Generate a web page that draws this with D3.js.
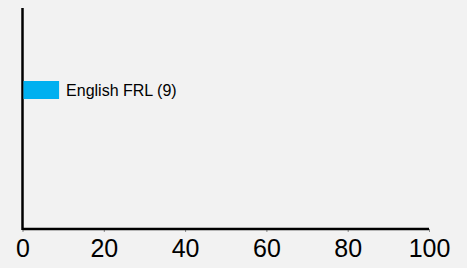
<!DOCTYPE html>
<html>
<head>
<meta charset="utf-8">
<script src="https://cdn.jsdelivr.net/npm/d3@7"></script>
<style>
  body { margin: 0; background: #f2f2f2; }
  svg { display: block; font-family: Arial, "Liberation Sans", sans-serif; }
</style>
</head>
<body>
<div id="chart"></div>
<script>
// data
var categories = ["English FRL"];
var values = [9];
var xTicks = [0, 20, 40, 60, 80, 100];

var svgWidth = 467;
var svgHeight = 268;

var svg = d3.select("#chart")
    .append("svg")
    .attr("width", svgWidth)
    .attr("height", svgHeight);

svg.append("rect")
    .attr("width", svgWidth)
    .attr("height", svgHeight)
    .attr("fill", "#f2f2f2");

var xScale = d3.scaleLinear()
    .domain([0, 100])
    .range([22.5, 429]);

var yScale = d3.scaleBand()
    .domain(categories)
    .range([81, 99]);

var bottomAxis = d3.axisBottom(xScale)
    .tickValues(xTicks)
    .tickSize(3)
    .tickPadding(7);

var xAxis = svg.append("g")
    .attr("transform", "translate(0, 229)")
    .call(bottomAxis);

xAxis.select(".domain").remove();
xAxis.selectAll(".tick line").attr("stroke", "#888");
xAxis.selectAll(".tick text")
    .attr("font-size", 25)
    .attr("fill", "#000")
    .attr("font-family", "Arial, 'Liberation Sans', sans-serif");

// axis lines
svg.append("line")
    .attr("x1", xScale(0)).attr("x2", xScale(100))
    .attr("y1", 229).attr("y2", 229)
    .attr("stroke", "#000")
    .attr("stroke-width", 2.5);

svg.append("line")
    .attr("x1", xScale(0)).attr("x2", xScale(0))
    .attr("y1", 8).attr("y2", 230)
    .attr("stroke", "#000")
    .attr("stroke-width", 2.5);

// bars
svg.selectAll(".bar")
    .data(categories)
    .enter().append("rect")
    .attr("class", "bar")
    .attr("x", xScale(0) + 1)
    .attr("y", d => yScale(d))
    .attr("width", (d, i) => xScale(values[i]) - xScale(0) - 1)
    .attr("height", yScale.bandwidth())
    .attr("fill", "#00b0f0");

svg.selectAll(".barLabel")
    .data(categories)
    .enter().append("text")
    .attr("class", "barLabel")
    .attr("x", (d, i) => xScale(values[i]) + 7)
    .attr("y", d => yScale(d) + yScale.bandwidth() / 2)
    .attr("dy", "0.35em")
    .attr("font-size", 16)
    .attr("fill", "#000")
    .text((d, i) => d + " (" + values[i] + ")");
</script>
</body>
</html>
